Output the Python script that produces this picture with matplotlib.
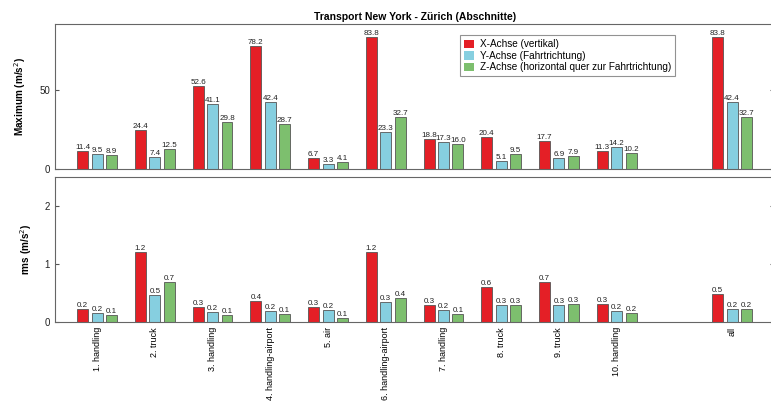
import numpy as np
import matplotlib
matplotlib.use("Agg")
import matplotlib.pyplot as plt

plt.rcParams['font.family'] = ['Liberation Sans', 'DejaVu Sans']

labels = ["1. handling", "2. truck", "3. handling", "4. handling-airport", "5. air",
          "6. handling-airport", "7. handling", "8. truck", "9. truck", "10. handling", "all"]
positions = [1, 2, 3, 4, 5, 6, 7, 8, 9, 10, 12]

max_x = [11.4, 24.4, 52.6, 78.2, 6.7, 83.8, 18.8, 20.4, 17.7, 11.3, 83.8]
max_y = [9.5, 7.4, 41.1, 42.4, 3.3, 23.3, 17.3, 5.1, 6.9, 14.2, 42.4]
max_z = [8.9, 12.5, 29.8, 28.7, 4.1, 32.7, 16.0, 9.5, 7.9, 10.2, 32.7]

rms_x = [0.23, 1.21, 0.27, 0.36, 0.26, 1.21, 0.30, 0.61, 0.69, 0.32, 0.49]
rms_y = [0.16, 0.46, 0.18, 0.20, 0.21, 0.34, 0.21, 0.29, 0.30, 0.20, 0.23]
rms_z = [0.12, 0.70, 0.12, 0.14, 0.08, 0.42, 0.14, 0.29, 0.32, 0.16, 0.22]

series_names = ["X-Achse (vertikal)", "Y-Achse (Fahrtrichtung)",
                "Z-Achse (horizontal quer zur Fahrtrichtung)"]
colors = ["#e41f26", "#86cfe0", "#7dbf6e"]

fig = plt.figure(figsize=(7.71, 4.12), dpi=100)
ax1 = fig.add_axes([0.0713, 0.590, 0.933, 0.352])
ax2 = fig.add_axes([0.0713, 0.218, 0.933, 0.352])

pos = np.array(positions, dtype=float)
width = 0.19
offsets = [-0.25, 0.0, 0.25]


def draw(ax, data, fmt):
    for vals, off, col, name in zip(data, offsets, colors, series_names):
        bars = ax.bar(pos + off, vals, width, color=col, edgecolor="#555555",
                      linewidth=0.6, label=name)
        for b, v in zip(bars, vals):
            ax.text(b.get_x() + b.get_width() / 2, v, fmt % v, ha="center",
                    va="bottom", fontsize=5.8, color="#222222")
    ax.set_xlim(0.27, 12.73)
    for s in ax.spines.values():
        s.set_color("#666666")
        s.set_linewidth(0.8)
    ax.tick_params(axis="y", direction="in", length=3, labelsize=7,
                   right=True, color="#555555", labelcolor="#222222")
    ax.tick_params(axis="x", length=0)


draw(ax1, [max_x, max_y, max_z], "%.1f")
draw(ax2, [rms_x, rms_y, rms_z], "%.1f")

ax1.set_ylim(0, 92)
ax1.set_yticks([0, 50])
ax1.set_xticks([])
ax1.set_ylabel("Maximum (m/s$^2$)", fontsize=7.2, fontweight="bold", labelpad=8)
ax1.set_title("Transport New York - Zürich (Abschnitte)", fontsize=7.5,
              fontweight="bold", pad=3)

leg = ax1.legend(loc="upper left", bbox_to_anchor=(0.556, 0.955), fontsize=7.2,
                 frameon=True, fancybox=False, handlelength=1.0, handleheight=1.0,
                 handletextpad=0.6, borderpad=0.4, labelspacing=0.15)
leg.get_frame().set_edgecolor("#777777")
leg.get_frame().set_linewidth(0.8)
for h in leg.legend_handles:
    h.set_edgecolor("none")

ax2.set_ylim(0, 2.5)
ax2.set_yticks([0, 1, 2])
ax2.set_xticks(positions)
ax2.set_xticklabels(labels, rotation=90, fontsize=6.5)
ax2.set_ylabel("rms (m/s$^2$)", fontsize=7.2, fontweight="bold", labelpad=8)

fig.savefig("out.png", dpi=100)
